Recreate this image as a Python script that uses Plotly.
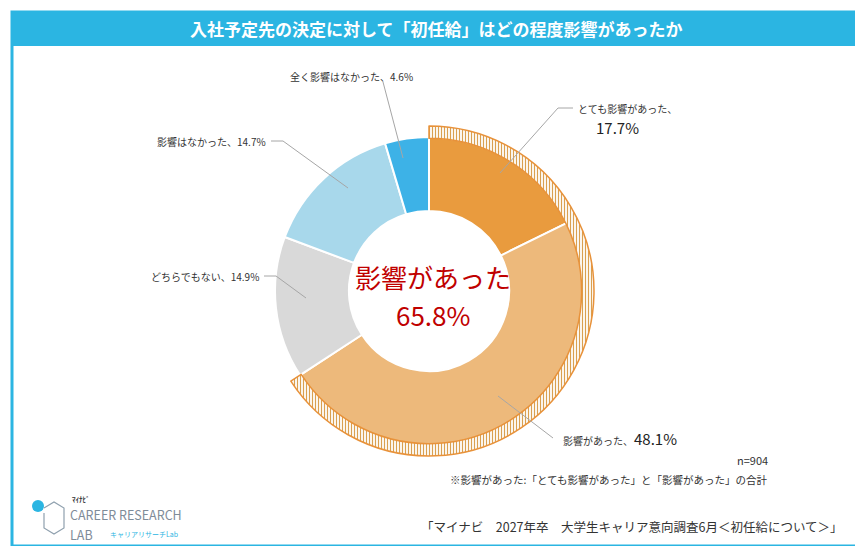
import plotly.graph_objects as go

W, H = 863, 546

labels = ['とても影響があった', '影響があった', 'どちらでもない', '影響はなかった', '全く影響はなかった']
values = [17.7, 48.1, 14.9, 14.7, 4.6]
colors = ['#E99B3E', '#EDB97B', '#D9D9D9', '#A8D8EB', '#3DB2E7']
total_label = '影響があった'
total_value = 65.8

CYAN = '#2BB5E2'
FONT = 'Noto Sans CJK JP'


def px(x, y):
    return x / W, 1 - y / H


def dom(cx, cy, r):
    x0, y0 = px(cx - r, cy + r)
    x1, y1 = px(cx + r, cy - r)
    return dict(x=[x0, x1], y=[y0, y1])


fig = go.Figure()
fig.add_trace(go.Pie(
    values=values, labels=labels, sort=False, direction='clockwise',
    hole=0.52, domain=dom(421, 283, 154),
    marker=dict(colors=colors, line=dict(color='white', width=2)),
    textinfo='none', hoverinfo='label+percent', showlegend=False,
))
fig.add_trace(go.Pie(
    values=[total_value, 100 - total_value], sort=False, direction='clockwise',
    hole=0.925, domain=dom(421, 283, 165),
    marker=dict(colors=['white', 'rgba(0,0,0,0)'],
                line=dict(color=['#E8923A', 'rgba(0,0,0,0)'], width=1.5),
                pattern=dict(shape=['|', ''], fgcolor='#D9A050', size=3, solidity=0.4)),
    textinfo='none', hoverinfo='skip', showlegend=False,
))

shapes = []
# frame and title bar
shapes.append(dict(type='rect', xref='paper', yref='paper', x0=px(4, 0)[0], x1=px(852, 0)[0],
                   y0=px(0, 538)[1], y1=px(0, 4)[1], line=dict(color=CYAN, width=3)))
shapes.append(dict(type='rect', xref='paper', yref='paper', x0=px(4, 0)[0], x1=px(852, 0)[0],
                   y0=px(0, 38)[1], y1=px(0, 4)[1], fillcolor=CYAN, line=dict(width=0)))


def leader(pts):
    path = 'M ' + ' L '.join(f'{x / W},{1 - y / H}' for x, y in pts)
    shapes.append(dict(type='path', xref='paper', yref='paper', path=path,
                       line=dict(color='#A6A6A6', width=1)))


leader([(375, 74), (395, 150)])
leader([(565, 100), (550, 100), (492, 165)])
leader([(263, 133), (275, 133), (340, 180)])
leader([(256, 268), (268, 268), (298, 290)])
leader([(545, 430), (490, 388)])

ann = []


def text(x, y, s, size=11, color='#333333', anchor='center', bold=False):
    xx, yy = px(x, y)
    if bold:
        s = f'<b>{s}</b>'
    ann.append(dict(x=xx, y=yy, xref='paper', yref='paper', text=s, showarrow=False,
                    xanchor=anchor, yanchor='middle', font=dict(size=size, color=color, family=FONT)))


text(428, 21, '入社予定先の決定に対して「初任給」はどの程度影響があったか', 17, 'white', bold=True)
text(425, 268, total_label, 26, '#C00000')
text(425, 306, f'{total_value}%', 26, '#C00000')
text(343, 68, f'{labels[4]}、{values[4]}%', 10)
text(568, 100, f'{labels[0]}、', 10, anchor='left')
text(586, 119, f'{values[0]}%', 15, '#222222', anchor='left')
text(260, 133, f'{labels[3]}、{values[3]}%', 10, anchor='right')
text(253, 268, f'{labels[2]}、{values[2]}%', 10, anchor='right')
text(553, 432, f'{labels[1]}、', 10, anchor='left')
text(624, 430, f'{values[1]}%', 15, '#222222', anchor='left')
text(762, 452, 'n=904', 11, anchor='right')
text(762, 471, '※影響があった:「とても影響があった」と「影響があった」の合計', 10.5, anchor='right')
text(837, 518, '「マイナビ\u30002027年卒\u3000大学生キャリア意向調査6月＜初任給について＞」', 12.5, anchor='right')
text(62, 491, 'ﾏｲﾅﾋﾞ', 7, '#333333', anchor='left', bold=True)
text(60, 506, 'CAREER RESEARCH', 12.5, '#7F8C99', anchor='left')
text(60, 526, 'LAB', 12.5, '#7F8C99', anchor='left')
text(100, 526, 'キャリアリサーチLab', 7, CYAN, anchor='left')
# logo mark
shapes.append(dict(type='circle', xref='paper', yref='paper', x0=px(24, 0)[0], x1=px(36, 0)[0],
                   y0=px(0, 504)[1], y1=px(0, 492)[1], fillcolor=CYAN, line=dict(width=0)))
shapes.append(dict(type='path', xref='paper', yref='paper',
                   path='M ' + ' L '.join(f'{x / W},{1 - y / H}' for x, y in
                                          [(36, 500), (46, 494), (56, 500), (56, 520), (46, 526), (36, 520), (36, 505)]),
                   line=dict(color='#8FA0AE', width=1.2)))

fig.update_layout(width=W, height=H, margin=dict(l=0, r=0, t=0, b=0),
                  paper_bgcolor='white', plot_bgcolor='white',
                  shapes=shapes, annotations=ann, font=dict(family=FONT))
fig.write_html('out.html')
